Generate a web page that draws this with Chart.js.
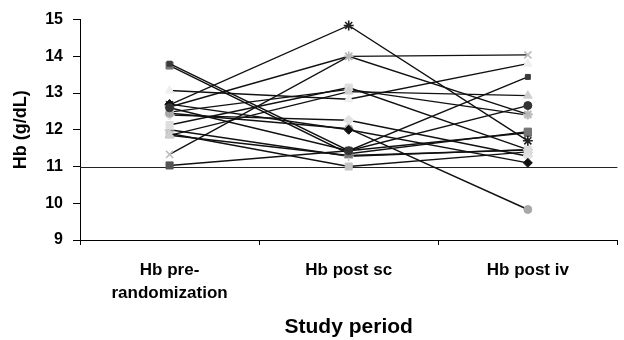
<!DOCTYPE html>
<html>
<head>
<meta charset="utf-8">
<script src="https://cdn.jsdelivr.net/npm/chart.js@4.4.1/dist/chart.umd.min.js"></script>
<style>
  body { margin: 0; background: #fff; }
  canvas { display: block; }
</style>
</head>
<body>
<canvas id="hbChart" width="624" height="340"></canvas>
<script>
// Categories (study periods) and axis ticks
const periods = [['Hb pre-', 'randomization'], 'Hb post sc', 'Hb post iv'];
const yTicks = [9, 10, 11, 12, 13, 14, 15];
const refLine = 11;

// One small array per patient: [pre, post sc, post iv]
const darkStar      = [12.68, 14.84, 11.70];
const lightStar     = [12.62, 14.00, 12.42];
const lightX        = [11.33, 14.00, 14.04];
const grayCircle    = [12.45, 12.03, 9.83];
const darkCircle    = [12.60, 11.43, 12.66];
const blackSquare   = [13.80, 11.43, 13.44];
const graySquare    = [13.75, 11.35, 11.95];
const whiteTriangle = [13.07, 12.83, 13.80];
const lightTriangle = [11.85, 13.04, 12.93];
const lightSquare   = [12.13, 13.15, 11.46];
const lightDiamond  = [12.40, 12.26, 11.28];
const lightPlus     = [12.00, 11.28, 11.46];
const paleSquare    = [11.90, 11.00, 11.40];
const darkDiamond   = [12.70, 12.00, 11.10];
const darkSquare    = [11.03, 11.43, 11.92];
const grayTriangle  = [11.85, 11.30, 11.45];
const lightCircle   = [12.48, 13.10, 12.40];

const patients = [darkCircle, darkDiamond, darkStar, lightStar, lightX, grayCircle, blackSquare, graySquare,
  whiteTriangle, lightTriangle, lightSquare, lightDiamond, lightPlus, paleSquare,
  darkSquare, grayTriangle, lightCircle];

// marker look for each patient, same order
const markerStyles = ['circle', 'rectRot', 'star', 'star', 'crossRot', 'circle', 'rect', 'rect',
  'triangle', 'triangle', 'rect', 'rectRot', 'cross', 'rect',
  'rect', 'triangle', 'circle'];
const markerColors = ['#333', '#111', '#222', '#b8b8b8', '#bdbdbd', '#a8a8a8', '#3a3a3a', '#777',
  '#efefef', '#cfcfcf', '#dedede', '#e2e2e2', '#cccccc', '#c4c4c4',
  '#555', '#999', '#d8d8d8'];
const markerSizes = [4, 4.5, 5, 5, 5, 4, 3.5, 5, 5, 5, 5, 5, 5, 5, 5, 5, 4];

const FONT = "'Liberation Sans', Arial, sans-serif";

const datasets = patients.map((vals, i) => ({
  data: vals,
  borderColor: '#111',
  borderWidth: 1.4,
  pointStyle: markerStyles[i],
  pointRadius: markerSizes[i],
  pointBackgroundColor: markerColors[i],
  pointBorderColor: markerColors[i],
  pointBorderWidth: (markerStyles[i] === 'star' || markerStyles[i].startsWith('cross')) ? 1.6 : 1,
  fill: false,
  tension: 0
}));

// horizontal line at Hb = 11 across the plot
const refLinePlugin = {
  id: 'refLine',
  beforeDatasetsDraw(chart) {
    const { ctx, chartArea, scales } = chart;
    const y = Math.round(scales.y.getPixelForValue(refLine)) + 0.5;
    ctx.save();
    ctx.strokeStyle = '#222';
    ctx.lineWidth = 1;
    ctx.beginPath();
    ctx.moveTo(chartArea.left, y);
    ctx.lineTo(chartArea.right, y);
    ctx.stroke();
    ctx.restore();
  }
};

new Chart(document.getElementById('hbChart'), {
  type: 'line',
  data: { labels: periods, datasets: datasets },
  options: {
    responsive: false,
    animation: false,
    devicePixelRatio: 1,
    layout: { padding: { top: 16, right: 6, left: 0, bottom: 0 } },
    plugins: { legend: { display: false }, tooltip: { enabled: false } },
    scales: {
      x: {
        type: 'category',
        offset: true,
        afterFit: (s) => { s.height = 100; },
        border: { color: '#000', width: 1 },
        grid: { display: true, offset: true, drawOnChartArea: false, drawTicks: true, tickLength: 5, color: '#000' },
        ticks: {
          color: '#000',
          maxRotation: 0,
          autoSkip: false,
          padding: 13,
          font: { family: FONT, size: 17, weight: 'bold', lineHeight: 1.4 }
        },
        title: {
          display: true,
          text: 'Study period',
          color: '#000',
          padding: { top: 0, bottom: 0 },
          font: { family: FONT, size: 21, weight: 'bold' }
        }
      },
      y: {
        min: yTicks[0],
        max: yTicks[yTicks.length - 1],
        afterFit: (s) => { s.width = 80; },
        afterBuildTicks: (s) => { s.ticks = yTicks.map(v => ({ value: v })); },
        border: { color: '#000', width: 1 },
        grid: { display: true, drawOnChartArea: false, drawTicks: true, tickLength: 7, color: '#000' },
        ticks: {
          color: '#000',
          padding: 10,
          font: { family: FONT, size: 16, weight: 'bold' }
        },
        title: {
          display: true,
          text: 'Hb (g/dL)',
          color: '#000',
          padding: { top: 10, bottom: 0 },
          font: { family: FONT, size: 18, weight: 'bold' }
        }
      }
    }
  },
  plugins: [refLinePlugin]
});
</script>
</body>
</html>
